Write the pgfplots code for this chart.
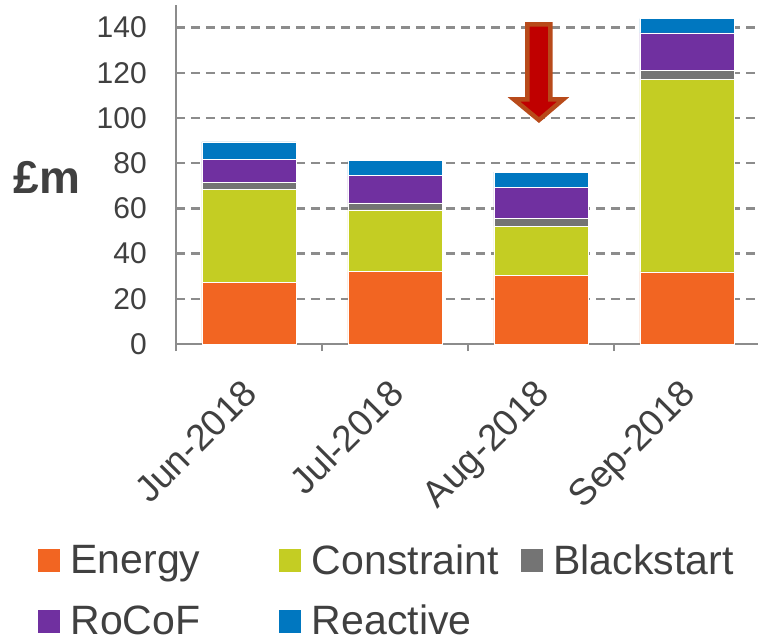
\documentclass[border=0pt]{standalone}
\usepackage{fontspec}
\setmainfont{Liberation Sans}
\usepackage{pgfplots}
\pgfplotsset{compat=1.18}
\definecolor{cEnergy}{HTML}{F26522}
\definecolor{cCons}{HTML}{C4CD23}
\definecolor{cBlack}{HTML}{747474}
\definecolor{cRoCoF}{HTML}{7030A0}
\definecolor{cReact}{HTML}{0077C0}
\definecolor{txt}{HTML}{404040}
\definecolor{axgray}{HTML}{8C8C8C}
\definecolor{arrowfill}{HTML}{C00000}
\definecolor{arrowedge}{HTML}{B84A1A}
\begin{document}
\begin{tikzpicture}[x=1pt,y=1pt]
\useasboundingbox (-176,-299) rectangle (582,344);
\begin{axis}[
  at={(0,0)}, anchor=south west,
  scale only axis, width=584pt, height=339pt,
  ybar stacked, bar width=0.644,
  xmin=-0.5, xmax=3.5, ymin=0, ymax=150,
  ytick={0,20,...,140},
  xtick={0,1,2,3},
  xticklabels={Jun-2018,Jul-2018,Aug-2018,Sep-2018},
  extra x ticks={-0.5,0.5,1.5,2.5,3.5},
  extra x tick labels={},
  extra x tick style={major tick length=7pt, tick style={draw=axgray, line width=2pt}},
  tick align=outside, major tick length=0pt,
  axis x line*=bottom, axis y line*=left,
  axis line style={draw=axgray, line width=2.5pt},
  ymajorgrids,
  grid style={draw=axgray, line width=2.5pt, dash pattern=on 9pt off 6pt},
  /pgf/number format/assume math mode=true,
  tick label style={font=\fontsize{30}{36}\selectfont, text=txt},
  yticklabel style={anchor=east, inner sep=0pt, xshift=-29pt},
  xticklabel style={font=\fontsize{37}{44}\selectfont, xshift=-8pt, yshift=-33pt, rotate=45, anchor=north east, inner sep=0pt},
  ylabel={\bfseries £m},
  every axis y label/.style={at={(axis description cs:0,0.5)}, anchor=center, rotate=0, xshift=-129pt, yshift=-2.5pt, font=\fontsize{46}{52}\selectfont, text=txt},
  legend style={at={(axis description cs:0,0)}, anchor=north west, xshift=-138pt, yshift=-201pt,
    draw=none, fill=none, inner sep=0pt, outer sep=0pt, row sep=29pt,
    font=\fontsize{41}{48}\selectfont, text=txt,
    nodes={inner sep=0pt},
    /tikz/every odd column/.append style={column sep=11pt},
    /tikz/every even column/.append style={column sep=8pt}},
  legend columns=3,
  legend cell align=left,
]
\addplot[fill=cEnergy, draw=white, line width=0.5pt, legend image code/.code={\fill[cEnergy] (0pt,-11pt) rectangle (21pt,11pt);}] coordinates {(0,27.2) (1,32.0) (2,30.3) (3,31.9)};
\addplot[fill=cCons, draw=white, line width=0.5pt, legend image code/.code={\fill[cCons] (0pt,-11pt) rectangle (21pt,11pt);}] coordinates {(0,41.3) (1,27.4) (2,21.8) (3,85.2)};
\addplot[fill=cBlack, draw=white, line width=0.5pt, legend image code/.code={\fill[cBlack] (0pt,-11pt) rectangle (21pt,11pt);}] coordinates {(0,3.1) (1,3.1) (2,3.6) (3,3.9)};
\addplot[fill=cRoCoF, draw=white, line width=0.5pt, legend image code/.code={\fill[cRoCoF] (0pt,-11pt) rectangle (21pt,11pt);}] coordinates {(0,10.2) (1,12.1) (2,13.6) (3,16.7)};
\addplot[fill=cReact, draw=white, line width=0.5pt, legend image code/.code={\fill[cReact] (0pt,-11pt) rectangle (21pt,11pt);}] coordinates {(0,7.6) (1,6.5) (2,6.8) (3,6.3)};
\addlegendentry{\makebox[201pt][l]{Energy}}
\addlegendentry{\makebox[201pt][l]{Constraint}}
\addlegendentry{Blackstart}
\addlegendentry{\makebox[201pt][l]{RoCoF}}
\addlegendentry{\makebox[201pt][l]{Reactive}}
\draw[line width=4.5pt, draw=arrowedge, fill=arrowfill, line join=miter]
  (axis cs:1.9075,141.4) -- (axis cs:2.065,141.4) -- (axis cs:2.065,108.2)
  -- (axis cs:2.151,108.2) -- (axis cs:1.986,99.1) -- (axis cs:1.815,108.2)
  -- (axis cs:1.9075,108.2) -- cycle;
\end{axis}
\end{tikzpicture}
\end{document}
